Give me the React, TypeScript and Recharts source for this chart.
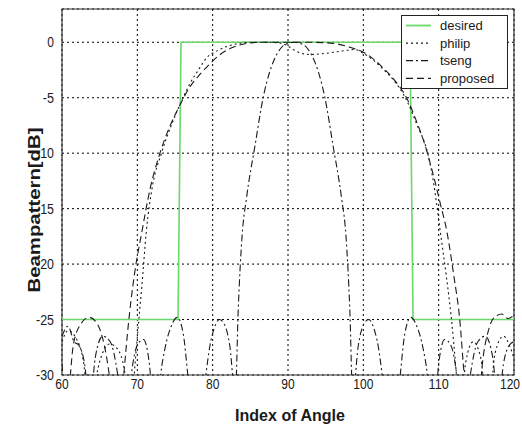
import React from 'react';
import { LineChart, Line, XAxis, YAxis, CartesianGrid, Legend, ReferenceArea, Label } from 'recharts';

const xTicks = [60, 70, 80, 90, 100, 110, 120];
const yTicks = [-30, -25, -20, -15, -10, -5, 0];
const seriesNames = ['desired', 'philip', 'tseng', 'proposed'];

const desired: [number, number][] = [
  [60, -25], [75.4, -25], [75.8, 0], [106.2, 0], [106.6, -25], [120, -25],
];

const philip: [number, number][] = [
  [60, -27], [60.8, -26], [61.8, -26.6], [62.8, -28.6], [63.8, -34], [64.6, -30],
  [65.4, -28], [66.3, -27.2], [67.3, -27.6], [68.3, -29.6], [69.1, -34], [69.7, -29],
  [70.2, -25], [70.6, -22], [71.2, -17], [72, -13], [73.2, -10], [74.5, -7.5],
  [75.8, -5.4], [77, -3.7], [78.2, -2.4], [79.2, -1.4], [80.5, -0.8], [82, -0.35],
  [83.5, -0.1], [85, 0], [87, 0], [88.8, -0.05], [89.9, -0.3], [90.8, -0.7],
  [91.8, -1.0], [93, -1.1], [95, -1.0], [97, -0.8], [98.8, -0.65], [100, -1.0],
  [101.3, -1.6], [102.6, -2.4], [104, -3.4], [105.8, -5.3], [107.1, -7.4], [108.5, -9.9],
  [109.4, -13], [110.2, -17], [111, -21], [111.7, -25], [112.3, -29.5], [112.8, -34],
  [113.6, -28.8], [114.6, -27], [115.6, -28.5], [116.5, -34], [117.5, -28], [118.6, -26.5],
  [119.5, -27.5], [120, -28.5],
];

const tseng: [number, number][] = [
  [60, -26.5], [60.8, -25.6], [61.6, -27], [62.2, -27.3], [63, -29], [63.7, -33],
  [64.4, -28.5], [65.4, -26.5], [66.4, -27], [67.4, -30], [68.4, -36], [69.2, -30],
  [70, -27.3], [70.8, -26.8], [71.6, -29], [72.4, -36], [73.1, -30], [73.7, -27.5],
  [74.5, -25.6], [75.3, -24.8], [76.1, -26.3], [76.7, -30], [77.9, -38], [79.1, -30],
  [79.6, -27.5], [80.2, -25.8], [80.9, -25], [81.6, -25.5], [82.3, -27.5], [83, -32],
  [83.4, -24], [83.9, -17.5], [84.5, -14], [85.6, -9.4], [86.7, -5], [87.6, -2.6],
  [88.5, -1.1], [89.5, -0.25], [90.8, 0], [92.1, -0.25], [93.1, -1.1], [94, -2.6],
  [94.9, -5], [96, -9.4], [97.1, -14], [97.7, -17.5], [98.2, -24], [98.6, -32],
  [99.3, -27.5], [100, -25.5], [100.7, -25], [101.4, -25.8], [102, -27.5], [102.5, -30],
  [103.7, -38], [104.9, -30], [105.5, -26.3], [106.3, -24.8], [107.1, -25.6], [107.9, -27.5],
  [108.5, -30], [109.2, -36], [110, -29], [110.8, -26.8], [111.6, -27.3], [112.4, -30],
  [113.2, -36], [114.2, -30], [115.2, -27], [116.2, -26.5], [117.2, -28.5], [117.9, -33],
  [118.6, -29], [119.4, -27.3], [120, -27],
];

const proposed: [number, number][] = [
  [60, -29], [60.6, -33], [61.5, -27.3], [62.5, -25.4], [63.6, -24.8], [64.7, -25.4],
  [65.7, -27.6], [66.7, -32], [67.5, -36], [68.2, -30], [68.8, -25.5], [69.6, -21],
  [70.6, -17.1], [71.7, -13.2], [73, -10], [74.3, -7.6], [75.7, -5.6], [77, -4],
  [78.3, -2.9], [79.4, -2.1], [81, -1.1], [82.7, -0.45], [84.5, -0.1], [86.3, 0],
  [90, 0], [93, 0], [96, -0.1], [98, -0.4], [100, -0.9], [101.5, -1.6],
  [102.6, -2.3], [104, -3.3], [105.8, -5.1], [107.1, -7.2], [108.2, -9.3], [109.3, -12],
  [110.2, -14.5], [111.1, -17.1], [112, -21], [112.8, -25], [113.4, -30], [114.1, -33],
  [115, -36], [115.8, -29], [116.6, -26], [117.4, -24.8], [118.4, -24.5], [119.2, -24.9],
  [120, -24.6],
];

const toPts = (a: [number, number][]) => a.map(([x, y]) => ({ x, y }));

const FONT = '"Liberation Sans", Arial, Helvetica, sans-serif';
const INK = '#1a1a1a';
const GREEN = '#6ad86a';

const styles: Record<string, { stroke: string; dash?: string; width: number }> = {
  desired: { stroke: GREEN, width: 1.6 },
  philip: { stroke: INK, dash: '2 3', width: 1.1 },
  tseng: { stroke: INK, dash: '7 3 2 3', width: 1.1 },
  proposed: { stroke: INK, dash: '7 4', width: 1.1 },
};

const textWidth = (s: string) => {
  let w = 0;
  for (const c of s) w += c === '-' ? 4.5 : 6.7;
  return w;
};

const XTick = (props: any) => {
  const { x, y, payload } = props;
  const s = String(payload.value);
  return (
    <text x={x} y={y + 14} textAnchor="middle" fontFamily={FONT} fontSize={14} fill={INK}
      textLength={textWidth(s)} lengthAdjust="spacingAndGlyphs">{s}</text>
  );
};

const YTick = (props: any) => {
  const { x, y, payload } = props;
  const s = String(payload.value);
  return (
    <text x={x - 8} y={y + 5} textAnchor="end" fontFamily={FONT} fontSize={14} fill={INK}
      textLength={textWidth(s)} lengthAdjust="spacingAndGlyphs">{s}</text>
  );
};

const XLabel = (props: any) => {
  const vb = props.viewBox;
  return (
    <text x={vb.x + vb.width / 2 + 2} y={vb.y + 46} textAnchor="middle" fontFamily={FONT}
      fontSize={16} fontWeight="bold" fill={INK} textLength={110} lengthAdjust="spacingAndGlyphs">
      Index of Angle
    </text>
  );
};

const YLabel = (props: any) => {
  const vb = props.viewBox;
  const cx = vb.x + 40;
  const cy = vb.y + vb.height / 2 + 18;
  return (
    <text x={cx} y={cy} transform={`rotate(-90 ${cx} ${cy})`} textAnchor="middle" fontFamily={FONT}
      fontSize={16} fontWeight="bold" fill={INK} textLength={165} lengthAdjust="spacingAndGlyphs">
      Beampattern[dB]
    </text>
  );
};

const LegendBox = () => (
  <svg width={108} height={75} style={{ display: 'block' }}>
    <rect x={0.5} y={0.5} width={106} height={73} fill="#fff" stroke="#222" strokeWidth={1} />
    {seriesNames.map((n, i) => {
      const cy = 10.5 + i * 17.6;
      const st = styles[n];
      return (
        <g key={n}>
          <line x1={5} x2={30} y1={cy} y2={cy} stroke={st.stroke} strokeWidth={st.width + 0.2}
            strokeDasharray={st.dash} />
          <text x={39} y={cy + 4.5} fontFamily={FONT} fontSize={13} fill={INK}>{n}</text>
        </g>
      );
    })}
  </svg>
);

export default function App() {
  const series: Record<string, [number, number][]> = { desired, philip, tseng, proposed };
  return (
    <div style={{ position: 'absolute', left: 0, top: 0, width: 522, height: 427, background: '#fff' }}>
      <LineChart width={522} height={427} margin={{ top: 9, right: 8, bottom: 0, left: 0 }}>
        <CartesianGrid stroke="#000" strokeDasharray="2 3" strokeWidth={1} />
        <XAxis type="number" dataKey="x" domain={[60, 120]} ticks={xTicks} allowDataOverflow
          height={52} tickSize={0} tickMargin={0} tick={<XTick />} axisLine={false} tickLine={false}>
          <Label content={<XLabel />} />
        </XAxis>
        <YAxis type="number" domain={[-30, 3]} ticks={yTicks} allowDataOverflow width={62}
          tickSize={0} tickMargin={0} tick={<YTick />} axisLine={false} tickLine={false}>
          <Label content={<YLabel />} />
        </YAxis>
        <ReferenceArea x1={60} x2={120} y1={-30} y2={3} fill="none" stroke="#333" strokeWidth={1.2} />
        {seriesNames.map((n) => (
          <Line key={n} name={n} data={toPts(series[n])} dataKey="y" type={n === 'desired' ? 'linear' : 'monotone'}
            stroke={styles[n].stroke} strokeWidth={styles[n].width} strokeDasharray={styles[n].dash}
            dot={false} activeDot={false} isAnimationActive={false} />
        ))}
        <Legend layout="vertical" align="center" verticalAlign="middle" content={<LegendBox />}
          wrapperStyle={{ left: 401, top: 15, width: 108, height: 75 }} />
      </LineChart>
    </div>
  );
}
